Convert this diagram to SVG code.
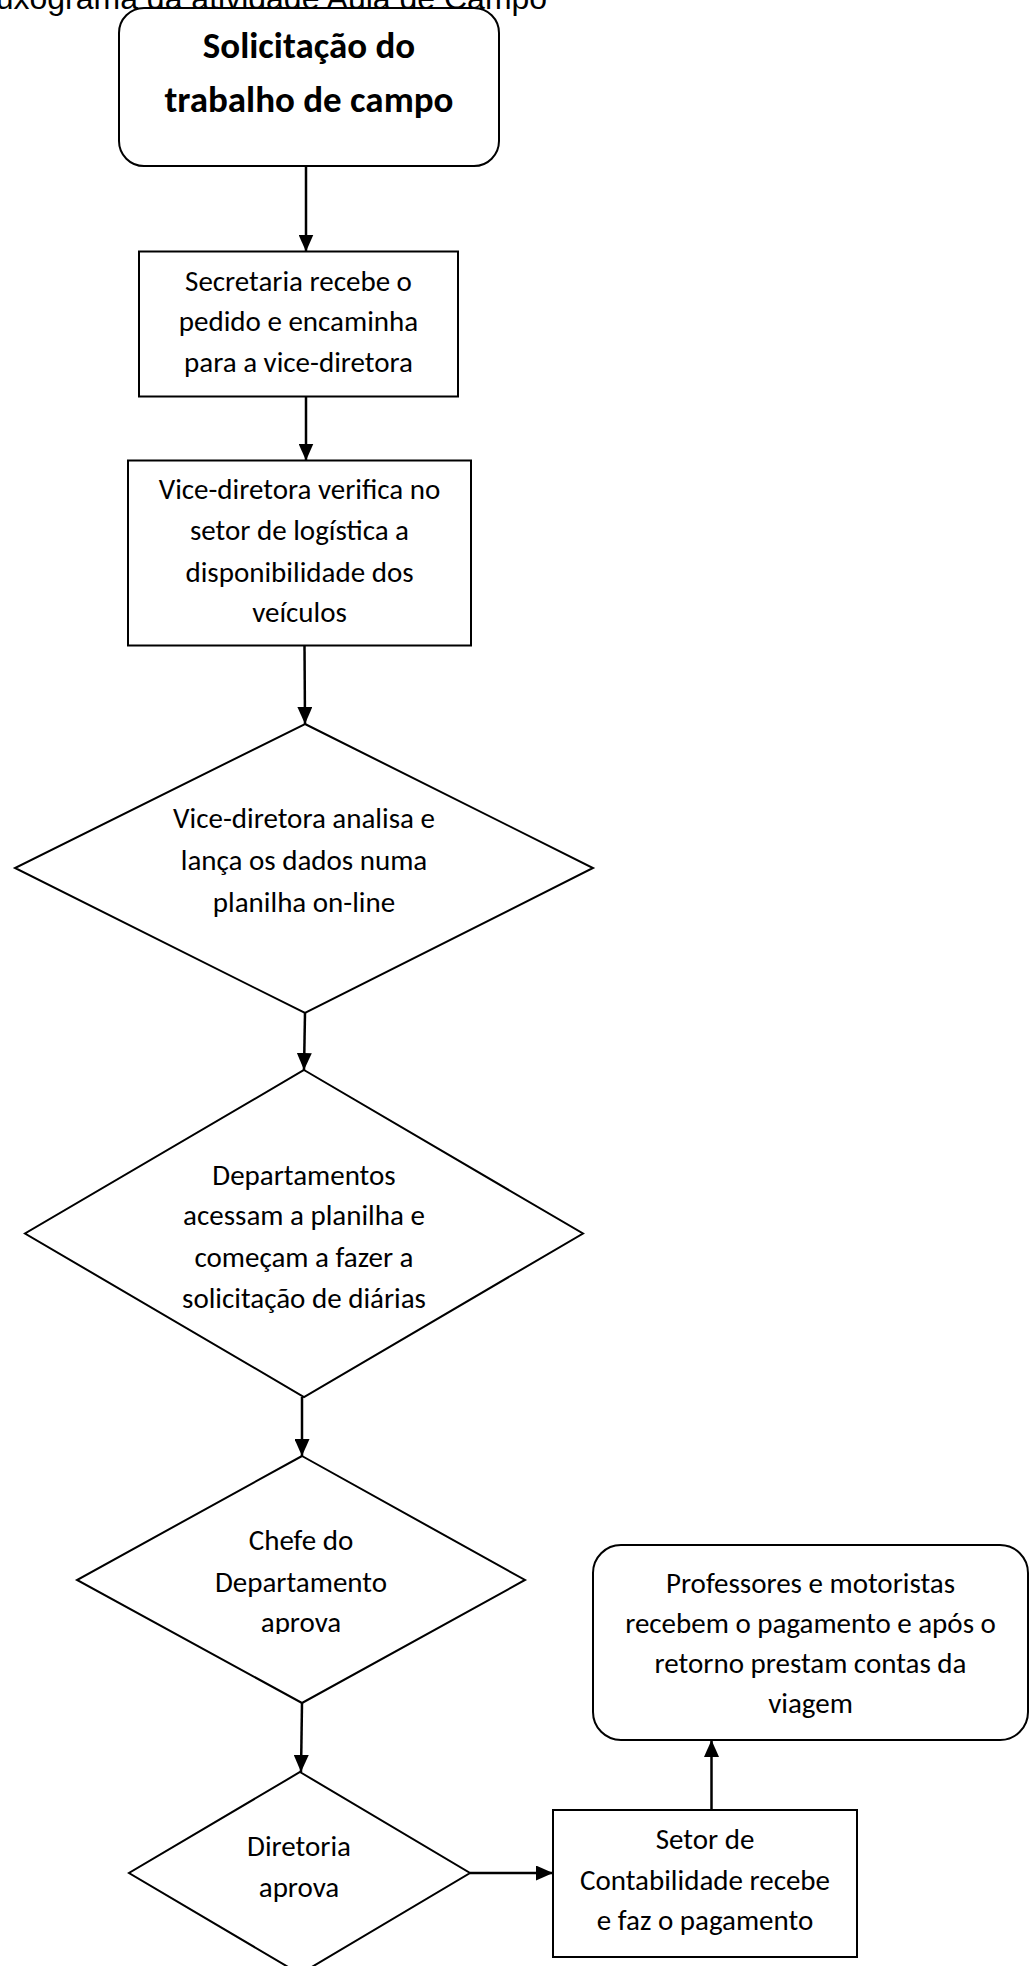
<svg xmlns="http://www.w3.org/2000/svg" width="1032" height="1966" viewBox="0 0 1032 1966">
<defs>
<style>
.bg{fill:#ffffff}
.shape{fill:#ffffff;stroke:#000000;stroke-width:2}
.t{font-family:Carlito,Lato,"Liberation Sans",sans-serif;font-size:29px;fill:#000000;text-anchor:middle}
.tb{font-family:Carlito,Lato,"Liberation Sans",sans-serif;font-size:37px;font-weight:bold;fill:#000000;text-anchor:middle}
.title{font-family:"Liberation Sans",Arial,sans-serif;font-size:32px;fill:#000000}
.conn{fill:none;stroke:#000000;stroke-width:2.5}
</style>
<marker id="arrow" viewBox="0 0 17 15" refX="17" refY="7.5" markerWidth="17" markerHeight="15" markerUnits="userSpaceOnUse" orient="auto">
<path d="M0,0 L17,7.5 L0,15 Z" fill="#000000"/>
</marker>
<clipPath id="clipD3"><rect x="0" y="1400" width="1032" height="234"/></clipPath>
</defs>
<rect class="bg" x="0" y="0" width="1032" height="1966"/>
<text class="title" x="-31" y="9">Fluxograma da atividade Aula de Campo</text>

<g id="connectors">
<line class="conn" x1="306" y1="166" x2="306" y2="251.5" marker-end="url(#arrow)"/>
<line class="conn" x1="306" y1="396.5" x2="306" y2="460.5" marker-end="url(#arrow)"/>
<line class="conn" x1="304.5" y1="645.5" x2="305" y2="724" marker-end="url(#arrow)"/>
<line class="conn" x1="305" y1="1013" x2="304" y2="1070" marker-end="url(#arrow)"/>
<line class="conn" x1="302" y1="1397" x2="302" y2="1456" marker-end="url(#arrow)"/>
<line class="conn" x1="302" y1="1703" x2="301" y2="1772" marker-end="url(#arrow)"/>
<line class="conn" x1="470" y1="1873" x2="553" y2="1873" marker-end="url(#arrow)"/>
<line class="conn" x1="711.5" y1="1810" x2="711.5" y2="1740" marker-end="url(#arrow)"/>
</g>

<g id="n1">
<rect class="shape" x="119" y="8" width="380" height="158" rx="25" ry="25"/>
<text class="tb" x="309" y="58">Solicitação do</text>
<text class="tb" x="309" y="112">trabalho de campo</text>
</g>

<g id="n2">
<rect class="shape" x="139" y="251.5" width="319" height="145"/>
<text class="t" x="298.5" y="291">Secretaria recebe o</text>
<text class="t" x="298.5" y="331">pedido e encaminha</text>
<text class="t" x="298.5" y="372">para a vice-diretora</text>
</g>

<g id="n3">
<rect class="shape" x="128" y="460.5" width="343" height="185"/>
<text class="t" x="299.5" y="499">Vice-diretora verifica no</text>
<text class="t" x="299.5" y="540">setor de logística a</text>
<text class="t" x="299.5" y="581.5">disponibilidade dos</text>
<text class="t" x="299.5" y="622">veículos</text>
</g>

<g id="d1">
<polygon class="shape" points="305,724 593,868 305,1013 15,868"/>
<text class="t" x="304" y="828">Vice-diretora analisa e</text>
<text class="t" x="304" y="870">lança os dados numa</text>
<text class="t" x="304" y="912">planilha on-line</text>
</g>

<g id="d2">
<polygon class="shape" points="304,1070 583,1233.5 304,1397 25,1233.5"/>
<text class="t" x="304" y="1185">Departamentos</text>
<text class="t" x="304" y="1225">acessam a planilha e</text>
<text class="t" x="304" y="1266.5">começam a fazer a</text>
<text class="t" x="304" y="1308">solicitação de diárias</text>
</g>

<g id="d3">
<polygon class="shape" points="302,1456 525,1580 302,1703 77,1580"/>
<text class="t" x="301" y="1550">Chefe do</text>
<text class="t" x="301" y="1591.5">Departamento</text>
<text class="t" x="301" y="1632" clip-path="url(#clipD3)">aprova</text>
</g>

<g id="d4">
<polygon class="shape" points="300,1772 470,1873 300,1974 129,1873"/>
<text class="t" x="299" y="1856">Diretoria</text>
<text class="t" x="299" y="1897">aprova</text>
</g>

<g id="n5">
<rect class="shape" x="553" y="1810" width="304" height="147"/>
<text class="t" x="705" y="1849">Setor de</text>
<text class="t" x="705" y="1890">Contabilidade recebe</text>
<text class="t" x="705" y="1930">e faz o pagamento</text>
</g>

<g id="n6">
<rect class="shape" x="593" y="1545" width="435" height="195" rx="28" ry="28"/>
<text class="t" x="810.5" y="1593">Professores e motoristas</text>
<text class="t" x="810.5" y="1633">recebem o pagamento e após o</text>
<text class="t" x="810.5" y="1673">retorno prestam contas da</text>
<text class="t" x="810.5" y="1713">viagem</text>
</g>
</svg>
